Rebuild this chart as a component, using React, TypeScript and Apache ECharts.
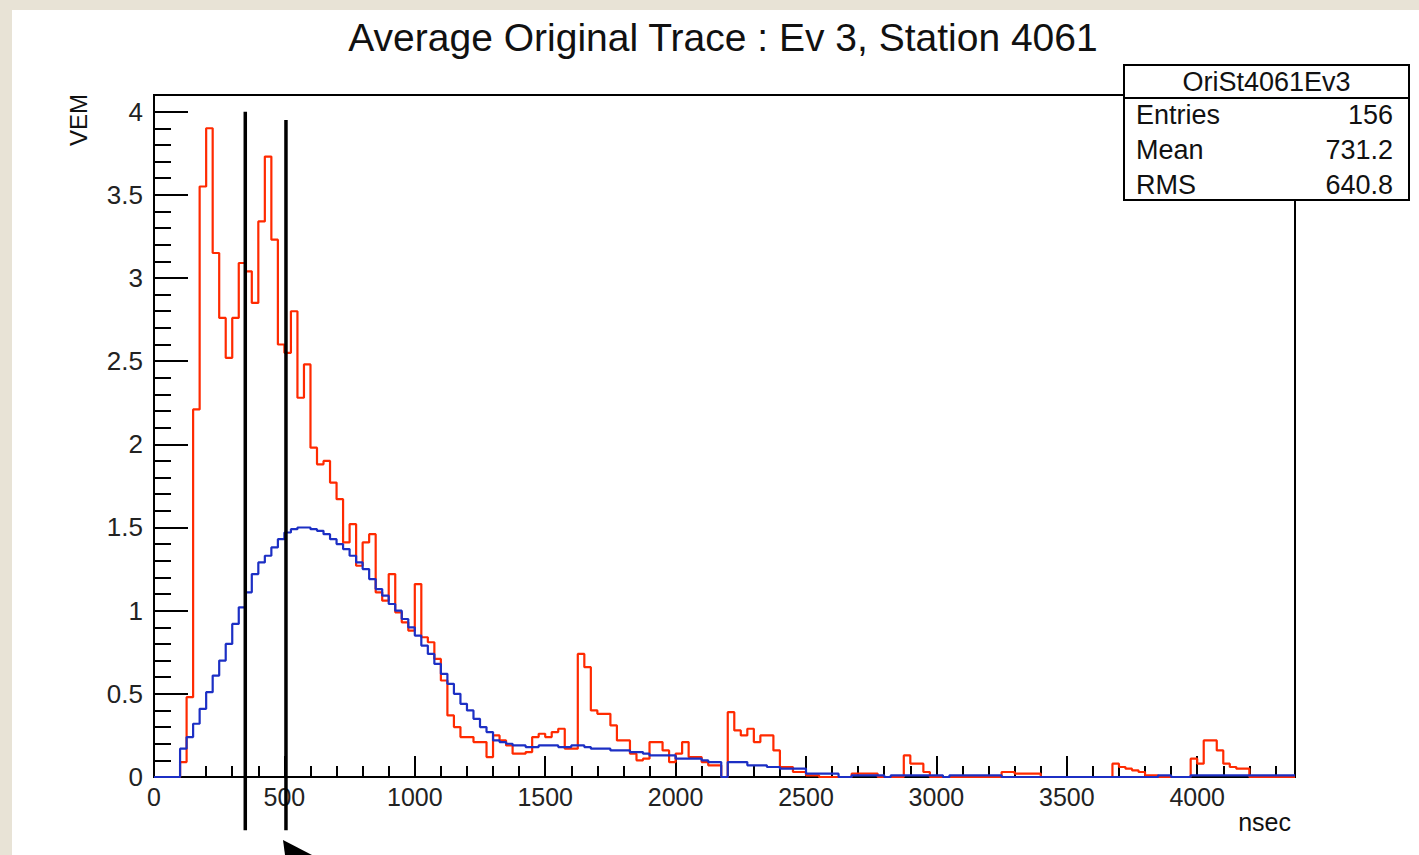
import React, { useEffect, useRef } from "react";
import * as echarts from "echarts";

// ---- data (bin width 25 ns, bins start at 0) ----
const BIN_WIDTH = 25;
const X_MAX = 4375;
const Y_MAX = 4.1;

const chartTitle = "Average Original Trace : Ev 3, Station 4061";
const xAxisTitle = "nsec";
const yAxisTitle = "VEM";

// red: original trace of this station
const redValues = [
  0, 0, 0, 0, 0.09, 0.48, 2.21, 3.55, 3.9, 3.15,
  2.76, 2.52, 2.76, 3.09, 3.04, 2.85, 3.34, 3.73, 3.23, 2.6,
  2.55, 2.8, 2.28, 2.48, 1.98, 1.88, 1.9, 1.77, 1.67, 1.41,
  1.52, 1.27, 1.41, 1.46, 1.11, 1.06, 1.22, 0.99, 0.93, 0.88,
  1.16, 0.84, 0.81, 0.71, 0.58, 0.37, 0.3, 0.24, 0.24, 0.21,
  0.21, 0.12, 0.25, 0.22, 0.19, 0.14, 0.14, 0.15, 0.24, 0.26,
  0.24, 0.27, 0.29, 0.17, 0.17, 0.74, 0.66, 0.4, 0.38, 0.38,
  0.31, 0.22, 0.22, 0.14, 0.1, 0.11, 0.21, 0.21, 0.16, 0.09,
  0.14, 0.21, 0.12, 0.12, 0.09, 0.07, 0.07, 0, 0.39, 0.28,
  0.25, 0.29, 0.21, 0.25, 0.25, 0.16, 0.06, 0.06, 0.03, 0.03,
  0.01, 0.01, 0, 0, 0, 0, 0, 0.02, 0.02, 0.02,
  0.02, 0, 0, 0, 0, 0.13, 0.08, 0.08, 0.03, 0,
  0, 0, 0, 0, 0, 0, 0, 0, 0, 0,
  0.03, 0.03, 0.02, 0.02, 0.02, 0.02, 0, 0, 0, 0,
  0, 0, 0, 0, 0, 0, 0, 0.08, 0.06, 0.05,
  0.04, 0.03, 0.01, 0.01, 0, 0, 0, 0, 0, 0.11,
  0.08, 0.22, 0.22, 0.16, 0.08, 0.06, 0.05, 0.05, 0, 0,
  0, 0, 0, 0, 0,
];

// blue: average trace
const blueValues = [
  0, 0, 0, 0, 0.17, 0.24, 0.32, 0.41, 0.51, 0.61,
  0.7, 0.8, 0.92, 1.02, 1.11, 1.22, 1.29, 1.33, 1.38, 1.43,
  1.47, 1.49, 1.5, 1.5, 1.49, 1.48, 1.46, 1.43, 1.4, 1.37,
  1.33, 1.29, 1.25, 1.19, 1.13, 1.09, 1.04, 1.0, 0.95, 0.9,
  0.85, 0.79, 0.74, 0.68, 0.62, 0.56, 0.5, 0.44, 0.4, 0.35,
  0.3, 0.27, 0.22, 0.21, 0.2, 0.19, 0.19, 0.18, 0.18, 0.19,
  0.19, 0.19, 0.18, 0.18, 0.19, 0.19, 0.18, 0.17, 0.17, 0.17,
  0.16, 0.16, 0.16, 0.15, 0.15, 0.14, 0.13, 0.13, 0.13, 0.13,
  0.11, 0.11, 0.11, 0.11, 0.1, 0.09, 0.09, 0, 0.09, 0.09,
  0.09, 0.07, 0.07, 0.07, 0.06, 0.06, 0.05, 0.05, 0.05, 0.05,
  0.02, 0.02, 0.02, 0.02, 0.02, 0, 0, 0.01, 0.01, 0.01,
  0.01, 0.01, 0, 0.01, 0.01, 0.01, 0.01, 0.01, 0.01, 0.01,
  0.01, 0, 0.01, 0.01, 0.01, 0.01, 0.01, 0.01, 0.01, 0.01,
  0, 0, 0, 0, 0, 0, 0, 0, 0, 0,
  0, 0, 0, 0, 0, 0, 0, 0, 0, 0,
  0, 0, 0, 0, 0.01, 0.01, 0, 0, 0, 0.01,
  0.01, 0.01, 0.01, 0.01, 0.01, 0.01, 0.01, 0.01, 0.01, 0.01,
  0.01, 0.01, 0.01, 0.01, 0.01,
];

const statsTitle = "OriSt4061Ev3";
const statsLabels = ["Entries", "Mean", "RMS"];
const statsValues = ["156", "731.2", "640.8"];

// hand-drawn vertical markers (time in ns, top value in VEM)
const markerTimes = [350, 506];
const markerTops = [4.0, 3.95];
const markerBottom = -0.32;

const FONT = "'Liberation Sans', Arial, Helvetica, sans-serif";

function toSteps(vals: number[]) {
  const d: number[][] = vals.map((v, i) => [i * BIN_WIDTH, v]);
  d.push([vals.length * BIN_WIDTH, vals[vals.length - 1]]);
  return d;
}

function txt(text: string, x: number, y: number, size: number, align: string, extra: any = {}) {
  return {
    type: "text",
    x,
    y,
    z: 100,
    ...extra,
    style: {
      text,
      fontSize: size,
      fontFamily: FONT,
      fill: "#111",
      align,
      textAlign: align,
      verticalAlign: "middle",
      textVerticalAlign: "middle",
    },
  };
}

export default function App() {
  const ref = useRef<HTMLDivElement>(null);

  useEffect(() => {
    const chart = echarts.init(ref.current!, null, { renderer: "svg" });
    const tickStyle = { color: "#000", width: 2 };
    const baseX = {
      type: "value",
      min: 0,
      max: X_MAX,
      position: "bottom",
      splitLine: { show: false },
      axisLine: { show: false },
    };
    const baseY = {
      type: "value",
      min: 0,
      max: Y_MAX,
      position: "left",
      splitLine: { show: false },
      axisLine: { show: false },
    };
    chart.setOption({
      animation: false,
      backgroundColor: "transparent",
      grid: {
        left: 154,
        top: 95,
        width: 1141,
        height: 682,
        show: true,
        borderColor: "#000",
        borderWidth: 2,
        backgroundColor: "transparent",
      },
      xAxis: [
        {
          ...baseX,
          interval: 500,
          axisTick: { inside: true, length: 21, lineStyle: tickStyle },
          axisLabel: {
            showMaxLabel: false,
            fontSize: 25,
            color: "#222",
            fontFamily: FONT,
            margin: 7,
            formatter: (v: number) => String(v),
          },
        },
        {
          ...baseX,
          interval: 100,
          axisTick: { inside: true, length: 11, lineStyle: tickStyle },
          axisLabel: { show: false },
        },
      ],
      yAxis: [
        {
          ...baseY,
          interval: 0.5,
          axisTick: { inside: true, length: 34, lineStyle: tickStyle },
          axisLabel: {
            showMaxLabel: false,
            fontSize: 26,
            color: "#222",
            fontFamily: FONT,
            margin: 11,
            formatter: (v: number) => String(v),
          },
        },
        {
          ...baseY,
          interval: 0.1,
          axisTick: { inside: true, length: 17, lineStyle: tickStyle },
          axisLabel: { show: false },
        },
      ],
      series: [
        {
          type: "line",
          step: "end",
          xAxisIndex: 0,
          yAxisIndex: 0,
          data: toSteps(redValues),
          symbol: "none",
          lineStyle: { color: "#ff2a00", width: 2.2 },
          itemStyle: { color: "#ff2a00" },
          z: 3,
        },
        {
          type: "line",
          step: "end",
          xAxisIndex: 0,
          yAxisIndex: 0,
          data: toSteps(blueValues),
          symbol: "none",
          lineStyle: { color: "#1c2fc4", width: 2.2 },
          itemStyle: { color: "#1c2fc4" },
          z: 4,
        },
      ],
    });

    const px = (x: number, y: number) =>
      chart.convertToPixel({ gridIndex: 0 }, [x, y]) as number[];

    const markers = markerTimes.map((t, i) => {
      const top = px(t, markerTops[i]);
      const bot = px(t, markerBottom);
      return {
        type: "line",
        z: 110,
        shape: { x1: top[0], y1: top[1], x2: bot[0], y2: bot[1] },
        style: { stroke: "#000", lineWidth: 3.5 },
      };
    });

    const boxX = 1124;
    const boxY = 65;
    const boxW = 285;
    const boxH = 135;
    const rowYs = [115, 150, 185];

    chart.setOption({
      graphic: [
        txt(chartTitle, 723, 37, 39, "center"),
        txt(yAxisTitle, 78, 120, 24, "center", { rotation: Math.PI / 2 }),
        txt(xAxisTitle, 1291, 822, 25, "right"),
        {
          type: "rect",
          z: 120,
          shape: { x: boxX, y: boxY, width: boxW, height: boxH },
          style: { fill: "#fff", stroke: "#000", lineWidth: 2 },
        },
        {
          type: "line",
          z: 121,
          shape: { x1: boxX, y1: 98, x2: boxX + boxW, y2: 98 },
          style: { stroke: "#000", lineWidth: 2 },
        },
        { ...txt(statsTitle, boxX + boxW / 2, 82, 27, "center"), z: 122 },
        ...statsLabels.map((l, i) => ({ ...txt(l, 1136, rowYs[i], 27, "left"), z: 122 })),
        ...statsValues.map((v, i) => ({ ...txt(v, 1393, rowYs[i], 27, "right"), z: 122 })),
        ...markers,
        {
          type: "polygon",
          z: 110,
          shape: { points: [[283, 840], [312, 855], [285, 855]] },
          style: { fill: "#000" },
        },
      ],
    });

    return () => chart.dispose();
  }, []);

  return (
    <div
      style={{
        position: "absolute",
        left: 0,
        top: 0,
        width: 1419,
        height: 855,
        background: "#e8e3d6",
        overflow: "hidden",
      }}
    >
      <div
        style={{
          position: "absolute",
          left: 12,
          top: 10,
          right: 0,
          bottom: 0,
          background: "#fff",
        }}
      />
      <div ref={ref} style={{ position: "absolute", left: 0, top: 0, width: 1419, height: 855 }} />
    </div>
  );
}
